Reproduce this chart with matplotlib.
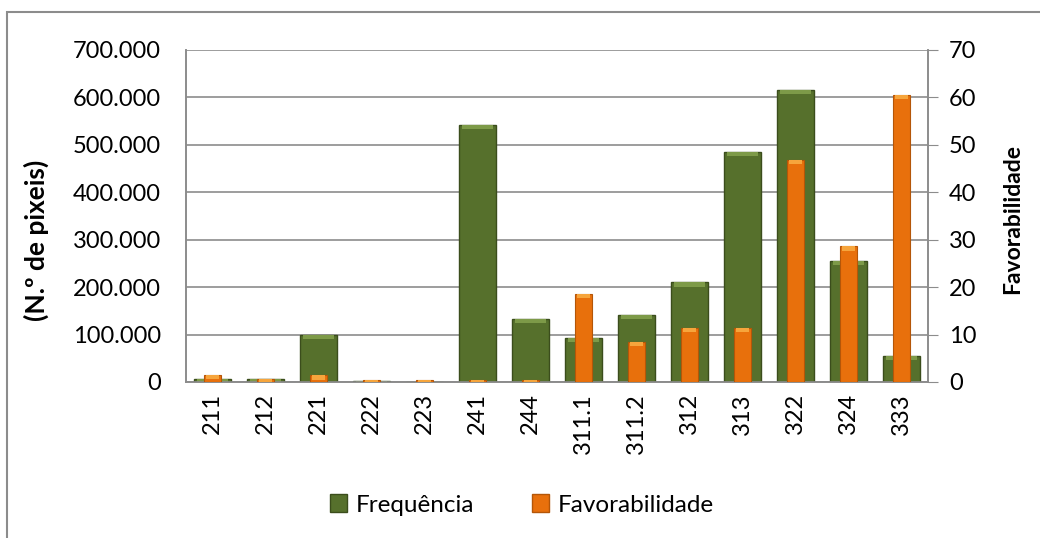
import matplotlib.pyplot as plt
import matplotlib.patches as mpatches
import numpy as np

plt.rcParams['font.family'] = ['Lato', 'DejaVu Sans']

# data
classes = ['211', '212', '221', '222', '223', '241', '244',
           '311.1', '311.2', '312', '313', '322', '324', '333']
frequencia = [7000, 6000, 100000, 2000, 0, 542000, 133000,
              93000, 141000, 210000, 485000, 616000, 256000, 55000]
favorabilidade = [1.5, 0.6, 1.4, 0.5, 0.5, 0.5, 0.5,
                  18.6, 8.4, 11.4, 11.4, 46.8, 28.6, 60.5]

left_ticks = np.arange(0, 700001, 100000)
right_ticks = np.arange(0, 71, 10)

green = '#56702c'
green_edge = '#3b4d1c'
orange = '#e8700c'
orange_edge = '#b45608'
grid_grey = '#8c8c8c'

W, H = 1040, 538


def fmt_thousands(v):
    return '{:,}'.format(int(v)).replace(',', '.')


fig = plt.figure(figsize=(W / 100, H / 100), dpi=100)
ax = fig.add_axes([186 / W, 1 - 382 / H, 742 / W, 332 / H])
ax2 = ax.twinx()

x = np.arange(len(classes))

ax.bar(x, frequencia, width=0.71, color=green, edgecolor=green_edge,
       linewidth=1.0, zorder=3)
ax2.bar(x, favorabilidade, width=0.32, color=orange, edgecolor=orange_edge,
        linewidth=0.8, zorder=3)

# light top bevel on the bars
for xi, v in zip(x, frequencia):
    if v > 0:
        ax.bar(xi, min(v, 9000), bottom=v - min(v, 9000), width=0.6,
               color='#7d9a48', linewidth=0, zorder=4)
for xi, v in zip(x, favorabilidade):
    ax2.bar(xi, min(v, 0.9), bottom=v - min(v, 0.9), width=0.24,
            color='#f6a53c', linewidth=0, zorder=4)

ax.set_xlim(-0.5, len(classes) - 0.5)
ax.set_ylim(0, 700000)
ax2.set_ylim(0, 70)

ax.set_yticks(left_ticks)
ax.set_yticklabels([fmt_thousands(v) for v in left_ticks], fontsize=17)
ax2.set_yticks(right_ticks)
ax2.set_yticklabels([str(v) for v in right_ticks], fontsize=17)
ax.set_xticks(x)
ax.set_xticklabels(classes, rotation=90, fontsize=17)

ax.grid(axis='y', color=grid_grey, linewidth=1.2, zorder=0)
ax.set_axisbelow(True)
ax.tick_params(axis='y', length=0, pad=18)
ax.tick_params(axis='x', length=0, pad=8)
ax2.tick_params(axis='y', length=7, color=grid_grey, pad=8)

for a in (ax, ax2):
    for s in a.spines.values():
        s.set_color(grid_grey)
        s.set_linewidth(1.2)
    a.spines['top'].set_visible(False)

# axis titles
fig.text(36 / W, 1 - 240 / H, '(N.º de pixeis)', rotation=90, ha='center',
         va='center', fontsize=19, fontweight='bold')
fig.text(1013 / W, 1 - 219 / H, 'Favorabilidade', rotation=90, ha='center',
         va='center', fontsize=16.5, fontweight='bold')

handles = [mpatches.Patch(facecolor=green, edgecolor=green_edge, label='Frequência'),
           mpatches.Patch(facecolor=orange, edgecolor=orange_edge, label='Favorabilidade')]
fig.legend(handles=handles, loc='center', bbox_to_anchor=(522 / W, 1 - 505 / H), ncol=2,
           frameon=False, fontsize=17.5, handlelength=0.7, handleheight=0.7,
           handletextpad=0.35, columnspacing=2.4)

# chart area border (cropped on the right and bottom)
border = mpatches.Rectangle((7 / W, -0.1), 1.2, 1 - 12 / H + 0.1,
                            transform=fig.transFigure, fill=False,
                            edgecolor='#8c8c8c', linewidth=1.5)
fig.patches.append(border)

plt.savefig('out.png', dpi=100)
